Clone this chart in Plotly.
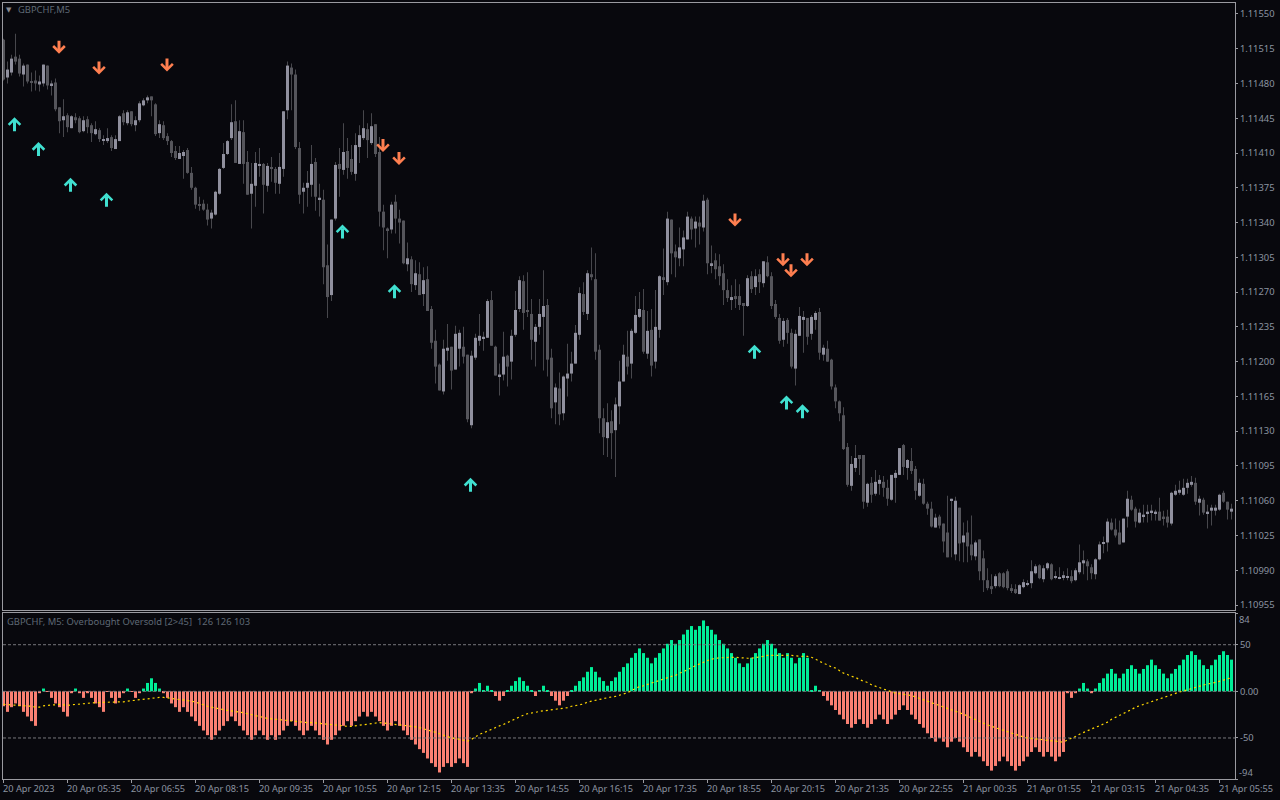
import plotly.graph_objects as go

# Prices are in points above 1.10000 (1 point = 0.00001)
PRICE_BASE = 1.10000
POINT = 0.00001

direction = (
    "DUUDDUDDDU" "UDUDDUDUDD" "UDDUDUUDUU" "DUDUUUUDDU" "DDDDUUDDDD" "DDUUUUUUDU"
    "DDUUUDUDDU" "UUDDDUUUDU" "DDUUDUDDUU" "UDUDDDDUDD" "DUDUDUDDDD" "UUDUUDDUUU"
    "UUDDUUDUUU" "DDDUUUDDUD" "UUUUUDUDDD" "DUDUUUDUUU" "DUDUUDUDDU" "UUDUDUDUDD"
    "DDUDDDUDUD" "UDDDDUDDUU" "UDUUDUDDDD" "DDUUDDUDUU" "DDUUUDUDDU" "DDDUDDDUUD"
    "UDDUDDDDUD" "DDDDUUUUUD" "UUDUUUUDUU" "UDDUUUUDDD" "UUDDUUUUUD" "DDUUUUUUDU"
    "DUUUUDDU"
)

body_top = [
    1524,1494,1505,1507,1505,1498,1499,1482,1483,1482,
    1499,1498,1480,1481,1456,1447,1448,1447,1446,1445,
    1443,1444,1438,1434,1433,1424,1425,1426,1424,1447,
    1450,1451,1452,1443,1460,1463,1466,1467,1459,1439,
    1438,1427,1422,1412,1410,1411,1413,1390,1375,1358,
    1359,1353,1350,1371,1394,1409,1422,1441,1442,1432,
    1431,1401,1379,1400,1399,1399,1397,1395,1394,1396,
    1452,1498,1496,1489,1415,1375,1380,1399,1401,1365,
    1363,1297,1343,1398,1399,1411,1412,1404,1418,1428,
    1435,1434,1437,1439,1411,1351,1334,1358,1361,1344,
    1342,1304,1303,1289,1288,1282,1283,1253,1221,1197,
    1213,1214,1215,1228,1229,1215,1207,1206,1224,1226,
    1225,1261,1262,1215,1187,1205,1206,1226,1252,1282,
    1281,1252,1248,1235,1248,1256,1257,1204,1174,1173,
    1185,1188,1198,1229,1269,1268,1289,1288,1283,1212,
    1143,1139,1140,1157,1180,1207,1205,1231,1247,1253,
    1252,1231,1232,1235,1286,1285,1344,1343,1311,1315,
    1325,1346,1344,1341,1340,1362,1363,1299,1302,1296,
    1289,1272,1265,1266,1266,1259,1284,1286,1286,1288,
    1301,1300,1286,1258,1244,1241,1242,1229,1228,1246,
    1245,1244,1245,1249,1250,1214,1213,1202,1174,1160,
    1146,1114,1097,1103,1106,1106,1077,1078,1079,1081,
    1079,1073,1086,1088,1113,1116,1101,1100,1092,1078,
    1077,1057,1052,1043,1044,1037,1028,1062,1060,1053,
    1025,1028,1016,1018,1021,1002,980,974,984,987,
    987,989,972,971,975,978,977,989,994,995,
    992,997,996,984,983,985,984,984,990,998,
    1000,999,993,1001,1016,1018,1039,1038,1031,1028,
    1042,1062,1061,1052,1048,1046,1049,1050,1049,1049,
    1044,1044,1068,1070,1071,1073,1078,1079,1078,1062,
    1061,1049,1053,1053,1066,1068,1059,1052,
]

body_bottom = [
    1484,1486,1491,1502,1490,1489,1482,1481,1480,1479,
    1480,1478,1478,1454,1442,1443,1436,1435,1443,1431,
    1432,1436,1430,1429,1424,1423,1422,1415,1414,1422,
    1441,1440,1439,1438,1443,1458,1463,1463,1429,1430,
    1425,1422,1410,1405,1404,1407,1390,1375,1358,1357,
    1353,1343,1344,1348,1369,1395,1409,1425,1400,1399,
    1399,1368,1369,1377,1397,1378,1377,1394,1380,1379,
    1394,1453,1489,1416,1368,1371,1375,1378,1366,1363,
    1295,1265,1267,1344,1394,1393,1395,1391,1389,1416,
    1425,1423,1420,1409,1351,1335,1332,1333,1344,1340,
    1299,1298,1278,1277,1267,1268,1251,1219,1195,1171,
    1170,1211,1191,1192,1213,1205,1142,1136,1204,1221,
    1223,1224,1216,1186,1185,1187,1195,1200,1227,1253,
    1249,1250,1222,1220,1235,1245,1202,1153,1159,1147,
    1148,1183,1188,1198,1227,1250,1248,1285,1210,1143,
    1124,1123,1128,1131,1155,1180,1195,1198,1229,1245,
    1210,1208,1196,1200,1232,1283,1280,1309,1305,1304,
    1313,1323,1333,1334,1336,1335,1299,1297,1293,1286,
    1272,1264,1262,1263,1257,1257,1256,1273,1275,1280,
    1279,1286,1256,1245,1221,1222,1229,1195,1193,1226,
    1242,1225,1228,1242,1209,1207,1200,1175,1160,1148,
    1112,1076,1075,1093,1102,1059,1058,1066,1067,1077,
    1073,1062,1061,1083,1086,1094,1093,1090,1070,1065,
    1057,1052,1034,1033,1035,1019,1003,1060,1006,1017,
    1018,1014,1005,1004,989,980,972,971,974,974,
    973,972,970,967,966,973,976,977,987,982,
    981,992,981,983,982,983,983,979,980,988,
    997,994,987,986,1001,1017,1018,1031,1025,1016,
    1018,1044,1051,1039,1038,1044,1047,1048,1047,1040,
    1042,1038,1037,1066,1068,1066,1073,1076,1059,1058,
    1048,1047,1050,1050,1051,1059,1051,1049,
]

wick_high = [
    1525,1502,1509,1530,1509,1500,1499,1491,1493,1488,
    1499,1498,1483,1485,1456,1464,1450,1448,1450,1447,
    1447,1447,1440,1442,1435,1428,1435,1428,1428,1448,
    1453,1453,1452,1447,1462,1465,1468,1467,1460,1443,
    1442,1430,1423,1417,1417,1413,1415,1396,1376,1366,
    1363,1359,1353,1372,1395,1420,1423,1459,1463,1443,
    1443,1412,1400,1411,1415,1400,1400,1406,1396,1410,
    1452,1502,1500,1494,1421,1380,1392,1418,1405,1379,
    1373,1318,1343,1401,1415,1440,1425,1418,1430,1438,
    1453,1440,1450,1439,1426,1358,1335,1361,1368,1353,
    1342,1320,1306,1302,1300,1295,1296,1256,1232,1198,
    1222,1238,1215,1236,1232,1235,1207,1211,1228,1248,
    1230,1263,1271,1216,1198,1230,1207,1232,1271,1286,
    1287,1290,1263,1238,1263,1292,1263,1213,1178,1189,
    1186,1218,1210,1237,1275,1280,1292,1315,1309,1217,
    1153,1158,1151,1164,1201,1217,1231,1233,1266,1270,
    1273,1251,1253,1272,1287,1314,1351,1343,1318,1335,
    1332,1351,1346,1346,1346,1368,1365,1317,1309,1308,
    1298,1283,1277,1283,1278,1259,1287,1291,1293,1293,
    1301,1306,1290,1262,1248,1244,1244,1233,1232,1255,
    1251,1244,1247,1251,1254,1217,1221,1203,1177,1161,
    1154,1118,1105,1116,1106,1106,1078,1084,1091,1086,
    1085,1081,1086,1091,1113,1117,1102,1113,1095,1082,
    1082,1059,1059,1047,1046,1037,1065,1062,1064,1053,
    1038,1040,1045,1020,1021,1010,992,986,986,988,
    988,991,976,976,976,981,980,1000,996,996,
    995,998,997,989,993,989,992,990,992,1016,
    1010,1001,996,1002,1019,1024,1042,1042,1042,1040,
    1042,1070,1065,1054,1052,1056,1056,1056,1051,1063,
    1050,1051,1069,1076,1080,1082,1082,1085,1083,1065,
    1063,1056,1056,1056,1067,1070,1059,1057,
]

wick_low = [
    1483,1480,1488,1499,1487,1477,1480,1472,1473,1472,
    1477,1474,1468,1452,1430,1426,1431,1435,1440,1430,
    1431,1430,1421,1428,1421,1418,1420,1412,1414,1422,
    1438,1438,1437,1432,1441,1457,1460,1447,1427,1425,
    1423,1418,1406,1403,1404,1384,1389,1373,1354,1352,
    1352,1337,1334,1347,1368,1394,1408,1423,1400,1399,
    1379,1368,1334,1356,1386,1349,1371,1381,1369,1369,
    1386,1444,1453,1414,1359,1349,1356,1366,1352,1346,
    1278,1244,1261,1342,1366,1388,1384,1388,1382,1400,
    1423,1405,1418,1406,1336,1312,1304,1329,1329,1319,
    1298,1291,1270,1272,1267,1256,1251,1213,1178,1171,
    1167,1201,1172,1192,1195,1198,1139,1133,1202,1216,
    1211,1224,1216,1186,1166,1181,1175,1182,1225,1250,
    1232,1245,1202,1195,1227,1191,1185,1143,1137,1136,
    1141,1165,1180,1198,1222,1247,1242,1282,1202,1128,
    1106,1104,1102,1084,1137,1180,1187,1183,1228,1244,
    1208,1203,1185,1193,1224,1267,1277,1288,1285,1296,
    1296,1323,1323,1315,1318,1331,1288,1289,1283,1277,
    1257,1260,1252,1254,1252,1226,1255,1269,1267,1269,
    1275,1285,1253,1243,1218,1215,1218,1193,1176,1226,
    1209,1217,1222,1232,1202,1201,1200,1172,1153,1140,
    1111,1074,1070,1089,1086,1052,1054,1058,1065,1066,
    1064,1055,1060,1058,1086,1086,1081,1087,1061,1064,
    1056,1046,1033,1033,1032,1008,1003,1003,1000,999,
    998,998,1000,1000,980,968,970,966,972,973,
    972,970,967,966,966,972,974,972,986,981,
    978,990,980,981,981,980,980,977,979,986,
    986,980,981,981,1000,1007,1009,1030,1023,1016,
    1018,1033,1050,1033,1037,1038,1038,1040,1040,1040,
    1035,1033,1035,1065,1066,1065,1067,1074,1056,1045,
    1046,1032,1035,1045,1050,1058,1041,1041,
]

oscillator = [
    -16,-22,-17,-13,-16,-22,-27,-32,-37,-2,
    3,-0.5,-7,-13,-17,-22,-27,-2,3,-2,
    -7,-2,-7,-13,-17,-22,-0.5,-7,-13,-7,
    -2,3,-0.5,-7,-2,3,9,14,9,3,
    -2,-7,-13,-17,-22,-17,-22,-27,-32,-37,
    -42,-47,-52,-47,-42,-37,-32,-27,-32,-37,
    -42,-47,-52,-47,-42,-47,-52,-47,-52,-47,
    -42,-37,-32,-37,-42,-47,-42,-37,-42,-47,
    -52,-57,-52,-47,-42,-37,-32,-37,-32,-27,
    -22,-27,-22,-27,-32,-37,-42,-37,-32,-37,
    -42,-47,-52,-57,-62,-66,-72,-77,-81,-87,
    -81,-77,-81,-77,-72,-77,-81,-2,3,9,
    1,6,1,-5,-10,-5,1,6,11,15,
    11,6,1,-5,1,6,1,-5,-10,-15,
    -10,-5,1,6,11,15,21,26,21,15,
    11,6,11,15,21,26,30,36,41,46,
    41,36,30,36,41,46,51,55,51,55,
    61,66,70,66,70,76,70,66,61,55,
    51,46,41,36,30,26,30,36,41,46,
    51,55,51,46,41,36,41,36,30,36,
    41,36,1,6,1,-5,-10,-15,-20,-25,
    -30,-35,-39,-35,-30,-35,-39,-35,-30,-25,
    -30,-35,-30,-25,-20,-15,-20,-25,-30,-35,
    -39,-45,-50,-54,-50,-54,-60,-54,-50,-54,
    -60,-65,-70,-65,-70,-75,-80,-85,-80,-75,
    -70,-75,-80,-85,-80,-75,-70,-65,-60,-65,
    -70,-65,-70,-75,-70,-65,-2,-7,-2,3,
    9,3,-2,3,9,14,19,24,19,14,
    19,24,28,24,19,24,28,34,28,24,
    19,14,19,24,28,34,39,43,39,34,
    28,24,28,34,39,43,39,34,
]

signal = [
    -14,-14.2,-14.5,-15,-15,-15.5,-15.5,-16,-17,-17,
    -15.5,-15,-14.5,-14,-14,-14.5,-15,-14.5,-14,-13.5,
    -13,-12.8,-12.5,-12,-12,-12,-12,-11.5,-11.8,-11.5,
    -11.2,-10.5,-10,-9.5,-9,-8.5,-8,-7,-6.5,-6.5,
    -6.5,-7,-7.5,-8.5,-8.5,-9,-9.5,-10.5,-11.5,-13,
    -15,-16,-17,-18,-19,-19.5,-20.5,-21,-21.5,-22,
    -23,-24,-25,-26.5,-27,-28,-29,-29.5,-30,-30.5,
    -31,-31.5,-32,-32,-32.5,-33,-33.5,-33.5,-34,-34.5,
    -35,-35.5,-36,-36.5,-37,-37.5,-37.5,-37.5,-37,-36.5,
    -35.5,-35,-34.5,-34,-33.5,-34,-34.5,-35,-35.5,-35.5,
    -36,-36.5,-37,-38,-39,-40,-41,-42.6,-44,-45.5,
    -47.5,-48.5,-50,-50.5,-51.5,-52,-53.5,-51.5,-48.5,-46,
    -44.5,-42.5,-40.5,-38.5,-37,-35.5,-33.5,-31.5,-29,-27,
    -25.5,-24,-23.5,-22.5,-21.5,-21,-20.5,-19.5,-19,-18.5,
    -18.5,-17.5,-16,-15.5,-14.5,-13.5,-11.5,-10.5,-9.5,-8.5,
    -7.5,-7,-6,-5.5,-4,-3,-1.5,1,3,5,
    6,7.5,8.5,10,11.5,13,14.5,16,17,19.5,
    21,23.5,25.5,27.5,29.5,31,33,34.5,35.5,36,
    36,36.5,36.5,36.5,36,36,35.5,35.5,36,37,
    37.5,38.5,38.5,38.5,38.5,39,38.5,38.5,38,37.5,
    37.5,37.5,36.5,34.5,32,30,28.5,26,25,22,
    19.5,18,16,15,12.5,11,9.5,7,5.5,3.5,
    2.5,0.7,-0.7,-2,-2.5,-3,-3.5,-4.5,-6,-7.5,
    -9,-10.5,-12,-13.5,-15.5,-17,-18.5,-20,-21,-23,
    -24.5,-26.5,-28.5,-30,-32,-34,-36,-37.5,-39,-40.5,
    -41.5,-43,-45,-46,-48,-49,-50,-50.5,-51,-51.5,
    -52.5,-53,-53.5,-54,-54.5,-54.5,-52,-50.5,-48.5,-46,
    -44,-42.5,-40.5,-38.5,-37,-35,-33,-30,-28,-26,
    -23.5,-21.5,-19.5,-17,-15.5,-13.5,-12,-10.5,-9,-7.5,
    -6,-4.5,-3.5,-2,-0.7,0.4,1.8,3,4.5,6,
    7,8,8.5,9.5,10.7,12,13.5,14.5,
]

up_arrow_bar = [3, 9, 17, 26, 85, 98, 117, 188, 196, 200]
up_arrow_pts = [1446, 1421, 1385, 1370, 1338, 1278, 1083, 1217, 1166, 1157]
down_arrow_bar = [14, 24, 41, 95, 99, 183, 195, 197, 201]
down_arrow_pts = [1510, 1489, 1492, 1411, 1398, 1336, 1296, 1285, 1296]

price_ticks = ["1.11550","1.11515","1.11480","1.11445","1.11410","1.11375","1.11340","1.11305",
               "1.11270","1.11235","1.11200","1.11165","1.11130","1.11095","1.11060","1.11025",
               "1.10990","1.10955"]
time_tick_bars = [0,16,32,48,64,80,96,112,128,144,160,176,192,208,224,240,256,272,288,304]
time_labels = ["20 Apr 2023","20 Apr 05:35","20 Apr 06:55","20 Apr 08:15","20 Apr 09:35","20 Apr 10:55",
               "20 Apr 12:15","20 Apr 13:35","20 Apr 14:55","20 Apr 16:15","20 Apr 17:35","20 Apr 18:55",
               "20 Apr 20:15","20 Apr 21:35","20 Apr 22:55","21 Apr 00:35","21 Apr 01:55","21 Apr 03:15",
               "21 Apr 04:35","21 Apr 05:55"]

BG = "#08080d"
AXIS = "#9a9aa0"
LABEL = "#8b93a0"
TITLE = "#5f6875"
WICK = "#47474c"
LIGHT = "#90909e"
DARK = "#55555b"
GREEN = "#00ee97"
SALMON = "#fa8072"
FONT = "Noto Sans"
TEXT_SIZE = 9.4

W, H = 1280, 800
bars = list(range(len(body_top)))
XRANGE = [-0.125, 307.875]

def price(pts):
    return PRICE_BASE + pts * POINT

fig = go.Figure()

fig.add_trace(go.Bar(
    x=bars, base=[price(v) for v in wick_low],
    y=[(h - l) * POINT for h, l in zip(wick_high, wick_low)],
    width=0.25, marker=dict(color=WICK, line=dict(width=0)),
    xaxis="x", yaxis="y", showlegend=False, name="wick"))
fig.add_trace(go.Bar(
    x=bars, base=[price(v) for v in body_bottom],
    y=[(t - b) * POINT for t, b in zip(body_top, body_bottom)],
    width=0.75,
    marker=dict(color=[LIGHT if d == "U" else DARK for d in direction], line=dict(width=0)),
    xaxis="x", yaxis="y", showlegend=False, name="GBPCHF,M5"))

fig.add_trace(go.Bar(
    x=bars, y=oscillator, width=0.75,
    marker=dict(color=[GREEN if v > 0 else SALMON for v in oscillator], line=dict(width=0)),
    xaxis="x2", yaxis="y2", showlegend=False, name="Overbought Oversold"))
for level in (50, 0, -50):
    fig.add_trace(go.Scatter(
        x=XRANGE, y=[level, level], mode="lines",
        line=dict(color="#77777b", width=1, dash="3px,2px"),
        xaxis="x2", yaxis="y2", showlegend=False, hoverinfo="skip"))
fig.add_trace(go.Scatter(
    x=bars, y=signal, mode="lines",
    line=dict(color="#ffd700", width=1.2, dash="2px,3px"),
    xaxis="x2", yaxis="y2", showlegend=False, name="signal"))

annotations = []
for b, p in zip(up_arrow_bar, up_arrow_pts):
    annotations.append(dict(x=b, y=price(p), xref="x", yref="y", ax=0, ay=15, xshift=-1, text=" ", showarrow=True,
                            font=dict(size=1), borderpad=0,
                            arrowhead=4, arrowsize=0.75, arrowwidth=3, arrowcolor="#40e0d0"))
for b, p in zip(down_arrow_bar, down_arrow_pts):
    annotations.append(dict(x=b, y=price(p), xref="x", yref="y", ax=0, ay=-14, xshift=-0.5, text=" ", showarrow=True,
                            font=dict(size=1), borderpad=0,
                            arrowhead=4, arrowsize=0.75, arrowwidth=3, arrowcolor="#ff7f50"))
for b, t in zip(time_tick_bars, time_labels):
    annotations.append(dict(x=b, y=1 - 788 / H, xref="x2", yref="paper", text=t, showarrow=False,
                            xanchor="left", yanchor="middle", xshift=-3,
                            font=dict(family=FONT, size=9.2, color=LABEL)))
annotations.append(dict(x=16 / W, y=1 - 10 / H, xref="paper", yref="paper", text="GBPCHF,M5", showarrow=False,
                        xanchor="left", yanchor="middle", font=dict(family=FONT, size=TEXT_SIZE, color=TITLE)))
annotations.append(dict(x=4 / W, y=1 - 10 / H, xref="paper", yref="paper", text="▼", showarrow=False,
                        xanchor="left", yanchor="middle", font=dict(family="DejaVu Sans", size=7, color="#8a8a90")))
annotations.append(dict(x=5 / W, y=1 - 621.5 / H, xref="paper", yref="paper",
                        text="GBPCHF, M5: Overbought Oversold [2>45]  126 126 103", showarrow=False,
                        xanchor="left", yanchor="middle", font=dict(family=FONT, size=TEXT_SIZE, color=TITLE)))
annotations.append(dict(x=1237 / W, y=1 - 619.5 / H, xref="paper", yref="paper", text="84", showarrow=False,
                        xanchor="left", yanchor="middle", font=dict(family=FONT, size=TEXT_SIZE, color=LABEL)))
annotations.append(dict(x=1237 / W, y=1 - 772.5 / H, xref="paper", yref="paper", text="-94", showarrow=False,
                        xanchor="left", yanchor="middle", font=dict(family=FONT, size=TEXT_SIZE, color=LABEL)))

common_x = dict(range=XRANGE, domain=[3 / W, 1235 / W], showgrid=False, zeroline=False,
                showline=True, linecolor=AXIS, linewidth=1, mirror=True, fixedrange=True)
common_y = dict(side="right", showgrid=False, zeroline=False, showline=True, linecolor=AXIS, linewidth=1,
                mirror=True, ticks="outside", ticklen=2, tickcolor=AXIS, fixedrange=True,
                tickfont=dict(family=FONT, size=TEXT_SIZE, color=LABEL))

fig.update_layout(
    width=W, height=H, margin=dict(l=0, r=0, t=0, b=0, pad=0, autoexpand=False),
    paper_bgcolor=BG, plot_bgcolor=BG, barmode="overlay", showlegend=False,
    hovermode=False, annotations=annotations,
    xaxis=dict(common_x, anchor="y", showticklabels=False, ticks=""),
    yaxis=dict(common_y, anchor="x", domain=[1 - 610 / H, 1 - 3 / H],
               range=[price(950), price(1561)],
               tickmode="array", tickvals=[float(t) for t in price_ticks], ticktext=price_ticks),
    xaxis2=dict(common_x, anchor="y2", showticklabels=False, ticks="outside", ticklen=3, tickcolor=AXIS,
                tickmode="array", tickvals=time_tick_bars),
    yaxis2=dict(common_y, anchor="x2", domain=[1 - 779 / H, 1 - 613 / H], range=[-94, 84],
                tickmode="array", tickvals=[84, 50, 0, -50, -94], ticktext=["", "50", "0.00", "-50", ""]),
)

fig.write_html("out.html", config={"displayModeBar": False},
               post_script="document.body.style.margin='0';document.body.style.background='%s';" % BG)
